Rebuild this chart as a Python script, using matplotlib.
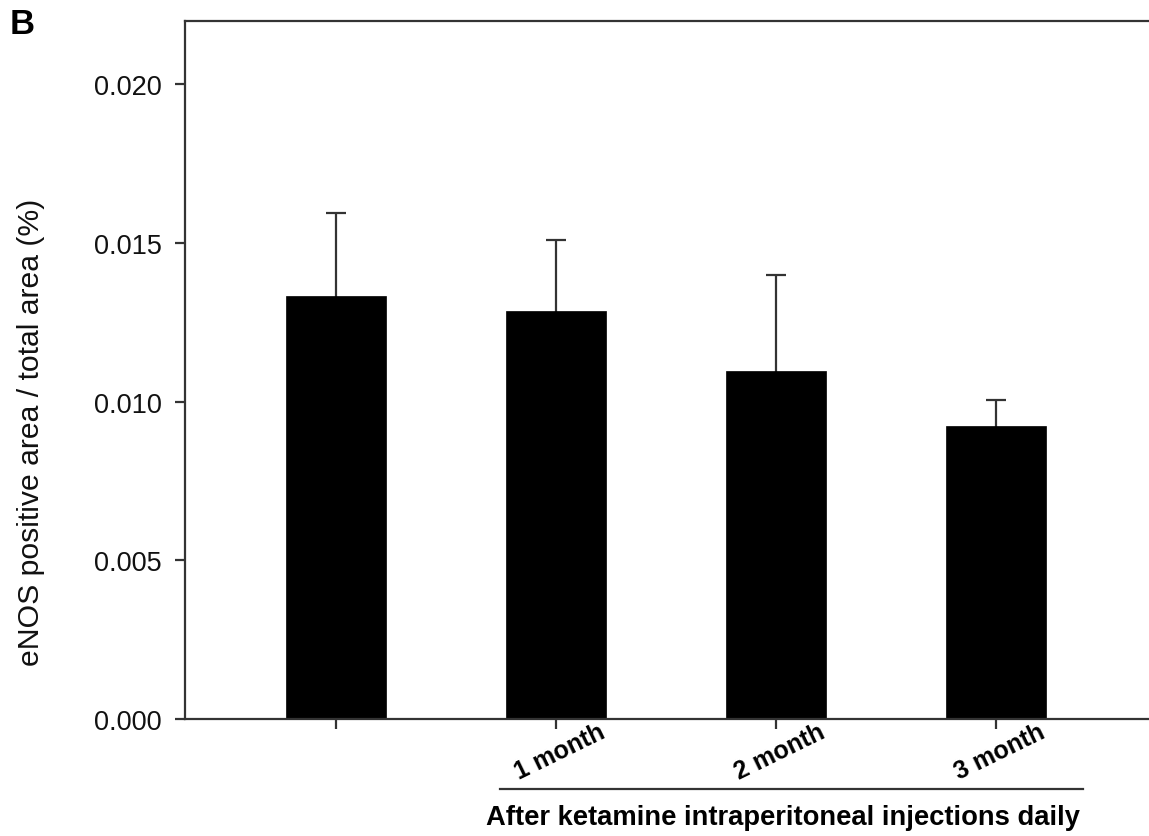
import matplotlib
matplotlib.use("Agg")
import matplotlib.pyplot as plt
import matplotlib.transforms as mtransforms

categories = ["", "1 month", "2 month", "3 month"]
means = [0.01334, 0.01287, 0.01098, 0.00924]
errors = [0.00262, 0.00224, 0.00303, 0.00082]
yticks = [0.000, 0.005, 0.010, 0.015, 0.020]
ylabel = "eNOS positive area / total area (%)"
group_label = "After ketamine intraperitoneal injections daily"
panel_letter = "B"

plt.rcParams['font.family'] = ['Liberation Sans', 'DejaVu Sans']

fig = plt.figure(figsize=(11.49, 8.37), dpi=100)
W, H = 1149, 837
left, right, bottom, top = 185, 1149, 720, 22
ax = fig.add_axes([left / W, (H - bottom) / H, (right - left) / W, (bottom - top) / H])

x = list(range(len(categories)))
ax.bar(x, means, width=0.4545, color="black", edgecolor="black", linewidth=0.5, zorder=2)
ax.errorbar(x, means, yerr=errors, fmt="none", ecolor="#333333",
            elinewidth=1.6, capsize=7.5, capthick=1.6, zorder=1)

ax.set_xlim(-0.686, (right - 336) / 220)
ax.set_ylim(0, 0.022)
ax.set_yticks(yticks)
ax.set_yticklabels([f"{v:.3f}" for v in yticks], fontsize=19.5, color="#111111")
ax.set_xticks(x)
ax.set_xticklabels([])

trans = mtransforms.blended_transform_factory(ax.transData, ax.transAxes)
for xi, lab in zip(x, categories):
    if lab:
        ax.annotate(lab, xy=(xi, 0), xycoords=trans, xytext=(42, 0), textcoords="offset pixels",
                    rotation=26, ha="right", va="top", rotation_mode="anchor",
                    fontsize=18, fontweight="bold", annotation_clip=False)

ax.tick_params(axis="both", direction="out", length=7, width=1.6, color="#333333", pad=10)
for s in ["left", "top", "bottom"]:
    ax.spines[s].set_linewidth(1.6)
    ax.spines[s].set_color("#333333")
ax.spines["right"].set_visible(False)

ax.set_ylabel(ylabel, fontsize=21.7, color="#111111")
ax.yaxis.set_label_coords(-(185 - 45) / (right - left), (bottom - 432) / (bottom - top))

yline = (bottom - 790) / (bottom - top)
ax.plot([(500 - 336) / 220, (1083 - 336) / 220], [yline, yline], transform=trans,
        color="#333333", linewidth=1.6, clip_on=False)
ax.text((783 - 336) / 220, (bottom - 818) / (bottom - top), group_label, transform=trans,
        ha="center", va="center", fontsize=19.7, fontweight="bold")

fig.text(10 / W, 1 - 25 / H, panel_letter, fontsize=25, fontweight="bold", ha="left", va="center")

fig.savefig("out.png", dpi=100)
